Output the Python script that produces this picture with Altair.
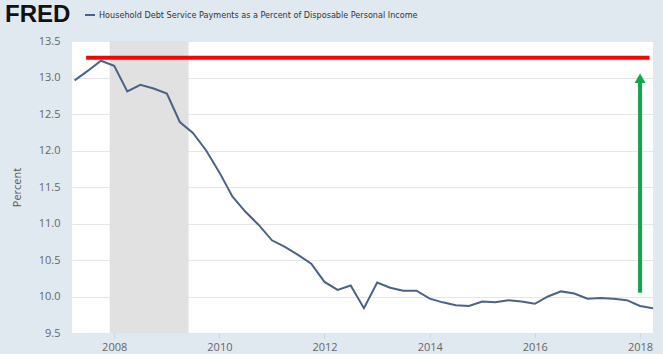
import altair as alt
import pandas as pd

# ---- data ----
start_quarter = "2007-04-01"
values = [
    12.96, 13.09, 13.23,
    13.16, 12.81, 12.90, 12.85,
    12.78, 12.39, 12.24, 12.00,
    11.70, 11.37, 11.16, 10.98,
    10.77, 10.68, 10.57, 10.45,
    10.20, 10.09, 10.15, 9.84,
    10.19, 10.12, 10.08, 10.08,
    9.97, 9.92, 9.88, 9.87,
    9.93, 9.92, 9.95, 9.93,
    9.90, 10.00, 10.07, 10.04,
    9.97, 9.98, 9.97, 9.95,
    9.87, 9.84,
]
dates = pd.date_range(start_quarter, periods=len(values), freq="QS")

recession_start = ["2007-12-01"]
recession_end = ["2009-06-01"]

red_start = ["2007-06-20"]
red_end = ["2018-03-08"]
red_value = [13.27]

arrow_date = ["2018-01-01"]
arrow_from = [10.05]
arrow_to = [12.95]
arrow_head = [12.99]

title_text = ["Household Debt Service Payments as a Percent of Disposable Personal Income"]
logo_text = ["FRED"]
y_min, y_max, y_step = 9.5, 13.5, 0.5
x_tick_years = [2008, 2010, 2012, 2014, 2016, 2018]

# ---- tables ----
df = pd.DataFrame({"date": dates, "value": values})
rec = pd.DataFrame({"start": pd.to_datetime(recession_start), "end": pd.to_datetime(recession_end)})
red = pd.DataFrame({"start": pd.to_datetime(red_start), "end": pd.to_datetime(red_end), "v": red_value})
arr = pd.DataFrame({"date": pd.to_datetime(arrow_date), "v0": arrow_from, "v1": arrow_to, "head": arrow_head})
ttl = pd.DataFrame({"t": title_text})
logo = pd.DataFrame({"t": logo_text})

LINE = "#4b6287"
GREEN = "#10a84b"
W, H = 581, 292

xscale = alt.Scale(domain=[alt.DateTime(year=2007, month=3, date=14),
                           alt.DateTime(year=2018, month=4, date=1)])
yscale = alt.Scale(domain=[y_min, y_max], nice=False, zero=False)

xaxis = alt.Axis(
    title=None, format="%Y", grid=False, domain=False,
    values=[alt.DateTime(year=y, month=1, date=1) for y in x_tick_years],
    tickColor="#cfd6de", tickSize=5, labelPadding=3,
    labelColor="#666666", labelFontSize=11, labelFont="Open Sans",
)
yaxis = alt.Axis(
    title="Percent", tickCount=int(round((y_max - y_min) / y_step)), format=".1f",
    grid=True, gridColor="#e6e6e6",
    domain=False, ticks=False, labelPadding=12, titlePadding=16, labelOverlap=False,
    labelColor="#666666", labelFontSize=11, labelFont="Open Sans",
    titleColor="#555555", titleFontSize=11, titleFont="Open Sans", titleFontWeight="normal",
)

recession = alt.Chart(rec).mark_rect(color="#e1e1e1").encode(
    x=alt.X("start:T", scale=xscale, axis=xaxis),
    x2="end:T",
)

line = alt.Chart(df).mark_line(color=LINE, strokeWidth=2).encode(
    x=alt.X("date:T", scale=xscale, axis=xaxis),
    y=alt.Y("value:Q", scale=yscale, axis=yaxis),
)

red_line = alt.Chart(red).mark_rule(color="#ff0000", strokeWidth=4).encode(
    x="start:T", x2="end:T", y=alt.Y("v:Q", axis=yaxis),
)

green_shaft = alt.Chart(arr).mark_rule(color=GREEN, strokeWidth=4).encode(
    x="date:T", y=alt.Y("v0:Q", axis=yaxis), y2="v1:Q",
)
green_head = alt.Chart(arr).mark_point(
    shape="triangle-up", filled=True, size=120, color=GREEN, opacity=1
).encode(x="date:T", y=alt.Y("head:Q", axis=yaxis))

logo_mark = alt.Chart(logo).mark_text(
    align="left", baseline="middle", font="Liberation Sans", fontWeight="bold",
    fontSize=24, color="#111111",
).encode(text="t:N", x=alt.value(-67), y=alt.value(-26))

legend_dash = alt.Chart(ttl).mark_rule(color=LINE, strokeWidth=2).encode(
    x=alt.value(13), x2=alt.value(23), y=alt.value(-26)
)
title_mark = alt.Chart(ttl).mark_text(
    align="left", baseline="middle",
    font="DejaVu Sans Condensed, Liberation Sans Narrow, sans-serif",
    fontSize=9, color="#333333",
).encode(text="t:N", x=alt.value(27), y=alt.value(-26))

chart = alt.layer(
    recession, line, red_line, green_shaft, green_head, logo_mark, legend_dash, title_mark
).properties(
    width=W, height=H,
    autosize=alt.AutoSizeParams(type="none"),
    padding={"left": 72, "top": 41, "right": 10, "bottom": 21},
    background="#e1e9f0",
).configure_view(fill="white", stroke=None).configure_axisY(labelOverlap=False)

chart.save("out.html", embed_options={"renderer": "svg", "actions": False})
